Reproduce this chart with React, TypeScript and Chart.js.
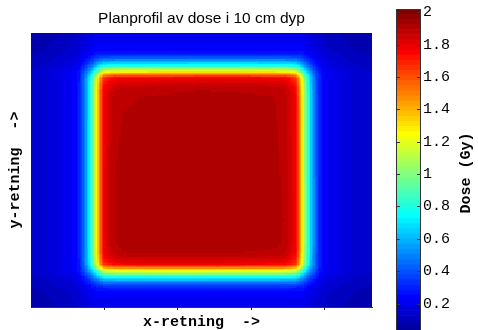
import React, { useEffect, useRef } from "react";
import { Chart, registerables } from "chart.js";

Chart.register(...registerables);

// ---- data ----
const chartTitle = "Planprofil av dose i 10 cm dyp";
const xTitle = "x-retning  ->";
const yTitle = "y-retning  ->";
const colorbarTitle = "Dose (Gy)";

const gridColumns = 232;
const gridRows = 187;
const xTickValues = [50, 100, 150, 200];

// field edges (50% level) in grid cells
const fieldEdgesX = [44.3, 184.9];
const fieldEdgesY = [25.9, 162.4];

// scatter dose level at the field edge (Gy)
const scatterDose = 0.38;

// dose in the interior of the field (Gy), coarse samples, rows top -> bottom
const interiorDoseRow1 = [1.88, 1.89, 1.9, 1.9, 1.88];
const interiorDoseRow2 = [1.89, 1.9, 1.91, 1.9, 1.89];
const interiorDoseRow3 = [1.9, 1.91, 1.92, 1.91, 1.89];
const interiorDoseRow4 = [1.9, 1.92, 1.92, 1.91, 1.9];
const interiorDoseRow5 = [1.89, 1.91, 1.91, 1.9, 1.89];
const interiorDose = [interiorDoseRow1, interiorDoseRow2, interiorDoseRow3, interiorDoseRow4, interiorDoseRow5];

// primary penumbra profile: distance inside field edge (cells) -> fraction
const penumbraDistance = [-15, -12, -9, -6, -3, -1.5, 0, 2, 5, 7.5, 9.5, 13, 18];
const primaryFraction = [0, 0.02, 0.08, 0.2, 0.36, 0.46, 0.553, 0.727, 0.92, 0.947, 0.973, 0.993, 1];

// out-of-field scatter: distance outside field edge (cells) -> fraction
const scatterDistanceX = [0, 3, 8, 12, 18, 25, 35, 48];
const scatterFractionX = [1, 0.88, 0.78, 0.65, 0.55, 0.48, 0.4, 0.33];
const scatterDistanceY = [0, 3, 8, 15, 22, 27];
const scatterFractionY = [1, 0.88, 0.75, 0.62, 0.55, 0.5];

const colorLimits = [0, 2.02];
const colorbarTicks = [0.2, 0.4, 0.6, 0.8, 1, 1.2, 1.4, 1.6, 1.8, 2];
const colorLevels = 64;

// ---- helpers ----
function interp(xs: number[], ys: number[], x: number): number {
  if (x <= xs[0]) return ys[0];
  const n = xs.length;
  if (x >= xs[n - 1]) return ys[n - 1];
  for (let i = 0; i < n - 1; i++) {
    if (x >= xs[i] && x <= xs[i + 1]) {
      const t = (x - xs[i]) / (xs[i + 1] - xs[i]);
      return ys[i] + t * (ys[i + 1] - ys[i]);
    }
  }
  return ys[n - 1];
}

function interiorAt(cx: number, cy: number): number {
  const rows = interiorDose.length;
  const cols = interiorDose[0].length;
  const fx = Math.max(0, Math.min(1, (cx - fieldEdgesX[0]) / (fieldEdgesX[1] - fieldEdgesX[0]))) * (cols - 1);
  const fy = Math.max(0, Math.min(1, (cy - fieldEdgesY[0]) / (fieldEdgesY[1] - fieldEdgesY[0]))) * (rows - 1);
  const i0 = Math.min(cols - 2, Math.floor(fx));
  const j0 = Math.min(rows - 2, Math.floor(fy));
  const tx = fx - i0;
  const ty = fy - j0;
  const a = interiorDose[j0][i0] * (1 - tx) + interiorDose[j0][i0 + 1] * tx;
  const b = interiorDose[j0 + 1][i0] * (1 - tx) + interiorDose[j0 + 1][i0 + 1] * tx;
  return a * (1 - ty) + b * ty;
}

// MATLAB jet(64)
function jetU(j: number): number {
  const m = 16;
  if (j < 1 || j > 47) return 0;
  if (j <= m) return j / m;
  if (j <= 31) return 1;
  return (48 - j) / m;
}
function jetColor(idx: number): [number, number, number] {
  const k = idx + 1;
  const r = k >= 25 ? jetU(k - 24) : 0;
  const g = k >= 9 && k <= 55 ? jetU(k - 8) : 0;
  const b = k <= 39 ? jetU(k + 8) : 0;
  return [Math.round(r * 255), Math.round(g * 255), Math.round(b * 255)];
}
function colorIndex(v: number): number {
  const t = (v - colorLimits[0]) / (colorLimits[1] - colorLimits[0]);
  return Math.max(0, Math.min(colorLevels - 1, Math.floor(t * colorLevels)));
}

function doseAt(cx: number, cy: number): number {
  const dx = Math.min(cx - fieldEdgesX[0], fieldEdgesX[1] - cx);
  const dy = Math.min(cy - fieldEdgesY[0], fieldEdgesY[1] - cy);
  const p = interp(penumbraDistance, primaryFraction, dx) * interp(penumbraDistance, primaryFraction, dy);
  const sx = dx >= 0 ? 1 : interp(scatterDistanceX, scatterFractionX, -dx);
  const sy = dy >= 0 ? 1 : interp(scatterDistanceY, scatterFractionY, -dy);
  return (interiorAt(cx, cy) - scatterDose) * p + scatterDose * sx * sy;
}

function buildImage(): HTMLCanvasElement {
  const off = document.createElement("canvas");
  off.width = gridColumns;
  off.height = gridRows;
  const c = off.getContext("2d")!;
  const img = c.createImageData(gridColumns, gridRows);
  for (let j = 0; j < gridRows; j++) {
    for (let i = 0; i < gridColumns; i++) {
      const [r, g, b] = jetColor(colorIndex(doseAt(i + 0.5, j + 0.5)));
      const o = (j * gridColumns + i) * 4;
      img.data[o] = r;
      img.data[o + 1] = g;
      img.data[o + 2] = b;
      img.data[o + 3] = 255;
    }
  }
  c.putImageData(img, 0, 0);
  return off;
}

const monoFont = "'Liberation Mono', 'DejaVu Sans Mono', monospace";

export default function App() {
  const mainRef = useRef<HTMLCanvasElement>(null);
  const barRef = useRef<HTMLCanvasElement>(null);

  useEffect(() => {
    const image = buildImage();

    const heatmapPlugin = {
      id: "heatmap",
      beforeDatasetsDraw(chart: any) {
        const xs = chart.scales.x;
        const ys = chart.scales.y;
        const x0 = xs.getPixelForValue(0);
        const x1 = xs.getPixelForValue(gridColumns);
        const y0 = ys.getPixelForValue(0);
        const y1 = ys.getPixelForValue(gridRows);
        const ctx = chart.ctx;
        ctx.save();
        ctx.imageSmoothingEnabled = false;
        ctx.drawImage(image, x0, Math.min(y0, y1), x1 - x0, Math.abs(y1 - y0));
        ctx.restore();
      },
      afterDraw(chart: any) {
        const ctx = chart.ctx;
        const a = chart.chartArea;
        ctx.save();
        ctx.fillStyle = "#000";
        ctx.font = "15.5px 'Liberation Sans', Arial, sans-serif";
        ctx.textAlign = "center";
        ctx.textBaseline = "alphabetic";
        ctx.fillText(chartTitle, (a.left + a.right) / 2, 23);
        ctx.restore();
      },
    };

    const main = new Chart(mainRef.current!, {
      type: "scatter",
      data: { datasets: [{ data: [] }] },
      options: {
        responsive: false,
        animation: false,
        events: [],
        layout: { padding: { top: 33, right: 8, left: 0, bottom: 0 } },
        plugins: { legend: { display: false }, tooltip: { enabled: false }, title: { display: false } },
        scales: {
          x: {
            type: "linear",
            min: 0,
            max: gridColumns,
            afterBuildTicks: (s: any) => {
              s.ticks = xTickValues.map((v) => ({ value: v }));
            },
            afterFit: (s: any) => {
              s.height = 23;
            },
            ticks: { display: false },
            grid: { display: true, drawOnChartArea: false, drawTicks: true, tickLength: 3, color: "#222" },
            border: { display: true, color: "#333" },
            title: {
              display: true,
              text: xTitle,
              color: "#000",
              font: { family: monoFont, size: 15, weight: "bold", lineHeight: 1 },
              padding: { top: 0, bottom: 0 },
            },
          },
          y: {
            type: "linear",
            min: 0,
            max: gridRows,
            reverse: true,
            afterFit: (s: any) => {
              s.width = 31;
            },
            ticks: { display: false },
            grid: { display: false },
            border: { display: true, color: "#333" },
            title: {
              display: true,
              text: yTitle,
              color: "#000",
              font: { family: monoFont, size: 15, weight: "bold", lineHeight: 1 },
              padding: { top: 8, bottom: 0 },
            },
          },
        },
      },
      plugins: [heatmapPlugin],
    } as any);

    const step = (colorLimits[1] - colorLimits[0]) / colorLevels;
    const barDatasets = Array.from({ length: colorLevels }, (_, k) => {
      const [r, g, b] = jetColor(k);
      return {
        data: [step],
        backgroundColor: `rgb(${r},${g},${b})`,
        borderWidth: 0,
        barPercentage: 1,
        categoryPercentage: 1,
      };
    });

    const colorbarPlugin = {
      id: "colorbarDecor",
      afterDraw(chart: any) {
        const ctx = chart.ctx;
        const a = chart.chartArea;
        const ys = chart.scales.y;
        ctx.save();
        ctx.strokeStyle = "#333";
        ctx.lineWidth = 1;
        ctx.strokeRect(a.left + 0.5, a.top + 0.5, a.right - a.left - 1, a.bottom - a.top);
        ctx.beginPath();
        for (const v of colorbarTicks) {
          const y = Math.round(ys.getPixelForValue(v)) + 0.5;
          ctx.moveTo(a.left, y);
          ctx.lineTo(a.left + 4, y);
          ctx.moveTo(a.right - 4, y);
          ctx.lineTo(a.right, y);
        }
        ctx.stroke();
        ctx.translate(86, 173);
        ctx.rotate(-Math.PI / 2);
        ctx.fillStyle = "#000";
        ctx.font = `bold 15px ${monoFont}`;
        ctx.textAlign = "center";
        ctx.textBaseline = "middle";
        ctx.fillText(colorbarTitle, 0, 0);
        ctx.restore();
      },
    };

    const bar = new Chart(barRef.current!, {
      type: "bar",
      data: { labels: [""], datasets: barDatasets },
      options: {
        responsive: false,
        animation: false,
        events: [],
        layout: { padding: { top: 9, left: 16, right: 0, bottom: 0 } },
        plugins: { legend: { display: false }, tooltip: { enabled: false } },
        scales: {
          x: { stacked: true, display: false },
          y: {
            stacked: true,
            position: "right",
            min: colorLimits[0],
            max: colorLimits[1],
            afterBuildTicks: (s: any) => {
              s.ticks = colorbarTicks.map((v) => ({ value: v }));
            },
            afterFit: (s: any) => {
              s.width = 57;
              s.paddingTop = 0;
              s.paddingBottom = 0;
            },
            ticks: {
              color: "#000",
              padding: 2,
              font: { family: monoFont, size: 15 },
              callback: (v: any) => String(Number(Number(v).toFixed(1))),
            },
            grid: { display: false, drawTicks: false },
            border: { display: false },
          },
        },
      },
      plugins: [colorbarPlugin],
    } as any);

    return () => {
      main.destroy();
      bar.destroy();
    };
  }, []);

  return (
    <div
      style={{
        position: "fixed",
        left: 0,
        top: 0,
        width: 478,
        height: 330,
        overflow: "hidden",
        background: "#fff",
      }}
    >
      <canvas ref={mainRef} width={380} height={330} style={{ position: "absolute", left: 0, top: 0 }} />
      <canvas ref={barRef} width={98} height={336} style={{ position: "absolute", left: 380, top: 0 }} />
    </div>
  );
}
